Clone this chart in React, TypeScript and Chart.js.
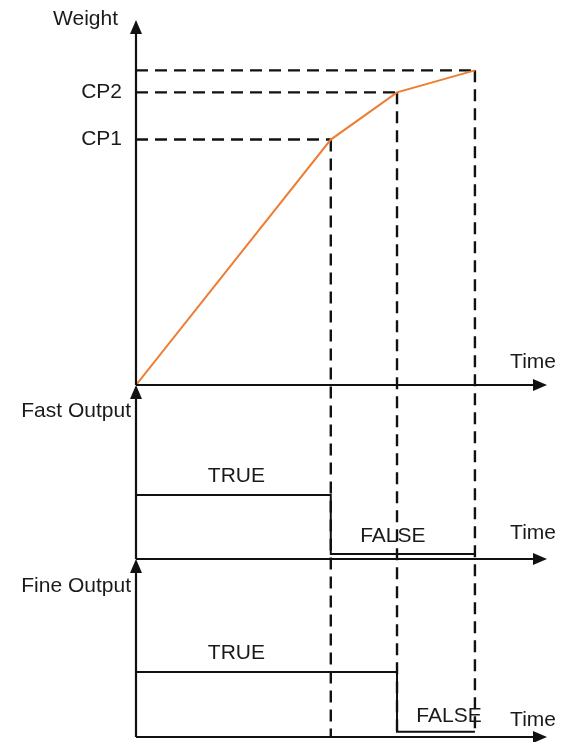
import React, { useEffect, useRef } from "react";
import { Chart, registerables } from "chart.js";

Chart.register(...registerables);

// ---- data ----
const times = [0, 10, 13.4, 17.4]; // start, CP1 reached, CP2 reached, end
const weights = [0, 78, 93, 100];
const weightTickLabels = ["", "CP1", "CP2", ""];
const fastTimes = [0, 10, 17.4];
const fastStates = [1, 0.08, 0.08];
const fineTimes = [0, 13.4, 17.4];
const fineStates = [1, 0.08, 0.08];
const stateLabels = ["TRUE", "FALSE"];
const panelTitles = ["Weight", "Fast Output", "Fine Output"];
const axisTitle = "Time";

const X_MAX = 21.1;
const W_MAX = 116;
const FAST_MAX = 2.72;
const FINE_MAX = 2.74;

const INK = "#111111";
const ORANGE = "#ED7D31";
const FONT = '21px "Liberation Sans", Arial, sans-serif';

function arrowUp(ctx: CanvasRenderingContext2D, x: number, tipY: number) {
  ctx.beginPath();
  ctx.moveTo(x, tipY);
  ctx.lineTo(x - 6, tipY + 14);
  ctx.lineTo(x + 6, tipY + 14);
  ctx.closePath();
  ctx.fill();
}
function arrowRight(ctx: CanvasRenderingContext2D, tipX: number, y: number) {
  ctx.beginPath();
  ctx.moveTo(tipX, y);
  ctx.lineTo(tipX - 14, y - 6);
  ctx.lineTo(tipX - 14, y + 6);
  ctx.closePath();
  ctx.fill();
}

const diagramPlugin = {
  id: "diagram",
  beforeDatasetsDraw(chart: any) {
    const ctx = chart.ctx as CanvasRenderingContext2D;
    const x = chart.scales.x;
    const yW = chart.scales.yW;
    const yFine = chart.scales.yFine;
    const x0 = x.getPixelForValue(0);
    ctx.save();
    ctx.strokeStyle = INK;
    ctx.lineWidth = 2.4;
    ctx.setLineDash([12, 7]);
    for (let i = 1; i < times.length; i++) {
      const px = x.getPixelForValue(times[i]);
      const py = yW.getPixelForValue(weights[i]);
      ctx.beginPath();
      ctx.moveTo(x0, py);
      ctx.lineTo(px, py);
      ctx.stroke();
      const bottom =
        i === times.length - 1
          ? yFine.getPixelForValue(fineStates[fineStates.length - 1])
          : yFine.getPixelForValue(0);
      ctx.beginPath();
      ctx.moveTo(px, py);
      ctx.lineTo(px, bottom);
      ctx.stroke();
    }
    ctx.restore();
  },
  afterDatasetsDraw(chart: any) {
    const ctx = chart.ctx as CanvasRenderingContext2D;
    const x = chart.scales.x;
    const x0 = x.getPixelForValue(0);
    const xEnd = x.right;
    const panels = [chart.scales.yW, chart.scales.yFast, chart.scales.yFine];
    ctx.save();
    ctx.strokeStyle = INK;
    ctx.fillStyle = INK;
    ctx.lineWidth = 2.2;
    ctx.setLineDash([]);
    // axes
    panels.forEach((s: any) => {
      const base = s.getPixelForValue(0);
      ctx.beginPath();
      ctx.moveTo(x0, base);
      ctx.lineTo(x0, s.top + 12);
      ctx.stroke();
      arrowUp(ctx, x0, s.top);
      ctx.beginPath();
      ctx.moveTo(x0, base);
      ctx.lineTo(xEnd - 12, base);
      ctx.stroke();
      arrowRight(ctx, xEnd, base);
    });
    // texts
    ctx.font = FONT;
    ctx.fillStyle = "#1a1a1a";
    ctx.textBaseline = "middle";
    ctx.textAlign = "right";
    const yW = chart.scales.yW;
    ctx.fillText(panelTitles[0], x0 - 18, yW.top - 1);
    for (let i = 0; i < weights.length; i++) {
      if (weightTickLabels[i]) {
        ctx.fillText(weightTickLabels[i], x0 - 14, yW.getPixelForValue(weights[i]));
      }
    }
    ctx.fillText(panelTitles[1], x0 - 5, chart.scales.yFast.top + 26);
    ctx.fillText(panelTitles[2], x0 - 5, chart.scales.yFine.top + 27);
    const timeOffsets = [23, 26, 17];
    panels.forEach((s: any, k: number) => {
      ctx.fillText(axisTitle, xEnd + 9, s.getPixelForValue(0) - timeOffsets[k]);
    });
    ctx.textAlign = "center";
    const yFast = chart.scales.yFast;
    const yFine = chart.scales.yFine;
    ctx.fillText(stateLabels[0], x.getPixelForValue(fastTimes[1] / 2) + 3, yFast.getPixelForValue(fastStates[0]) - 19);
    ctx.fillText(stateLabels[1], x.getPixelForValue((fastTimes[1] + fastTimes[2]) / 2) - 10, yFast.getPixelForValue(fastStates[1]) - 18);
    ctx.fillText(stateLabels[0], x.getPixelForValue(fastTimes[1] / 2) + 3, yFine.getPixelForValue(fineStates[0]) - 19);
    ctx.fillText(stateLabels[1], x.getPixelForValue((fineTimes[1] + fineTimes[2]) / 2) + 13, yFine.getPixelForValue(fineStates[1]) - 16);
    ctx.restore();
  },
};

export default function App() {
  const ref = useRef<HTMLCanvasElement | null>(null);
  useEffect(() => {
    document.body.style.margin = "0";
    const canvas = ref.current;
    if (!canvas) return;
    const chart = new Chart(canvas, {
      type: "line",
      data: {
        datasets: [
          {
            label: "Weight",
            data: times.map((t, i) => ({ x: t, y: weights[i] })),
            xAxisID: "x",
            yAxisID: "yW",
            borderColor: ORANGE,
            borderWidth: 2,
            pointRadius: 0,
            fill: false,
          },
          {
            label: "Fast Output",
            data: fastTimes.map((t, i) => ({ x: t, y: fastStates[i] })),
            xAxisID: "x",
            yAxisID: "yFast",
            borderColor: INK,
            borderWidth: 2,
            pointRadius: 0,
            stepped: "before",
            fill: false,
          },
          {
            label: "Fine Output",
            data: fineTimes.map((t, i) => ({ x: t, y: fineStates[i] })),
            xAxisID: "x",
            yAxisID: "yFine",
            borderColor: INK,
            borderWidth: 2,
            pointRadius: 0,
            stepped: "before",
            fill: false,
          },
        ],
      },
      options: {
        animation: false,
        responsive: false,
        events: [],
        layout: { padding: { left: 136, right: 14, top: 20, bottom: 5 } },
        plugins: { legend: { display: false }, tooltip: { enabled: false } },
        scales: {
          x: { type: "linear", min: 0, max: X_MAX, display: false },
          yFine: {
            type: "linear",
            position: "left",
            stack: "panels",
            stackWeight: 178,
            min: 0,
            max: FINE_MAX,
            display: false,
          },
          yFast: {
            type: "linear",
            position: "left",
            stack: "panels",
            stackWeight: 174,
            min: 0,
            max: FAST_MAX,
            display: false,
          },
          yW: {
            type: "linear",
            position: "left",
            stack: "panels",
            stackWeight: 365,
            min: 0,
            max: W_MAX,
            display: false,
          },
        },
      },
      plugins: [diagramPlugin],
    } as any);
    return () => chart.destroy();
  }, []);
  return (
    <canvas
      ref={ref}
      width={561}
      height={742}
      style={{ display: "block", width: 561, height: 742 }}
    />
  );
}
